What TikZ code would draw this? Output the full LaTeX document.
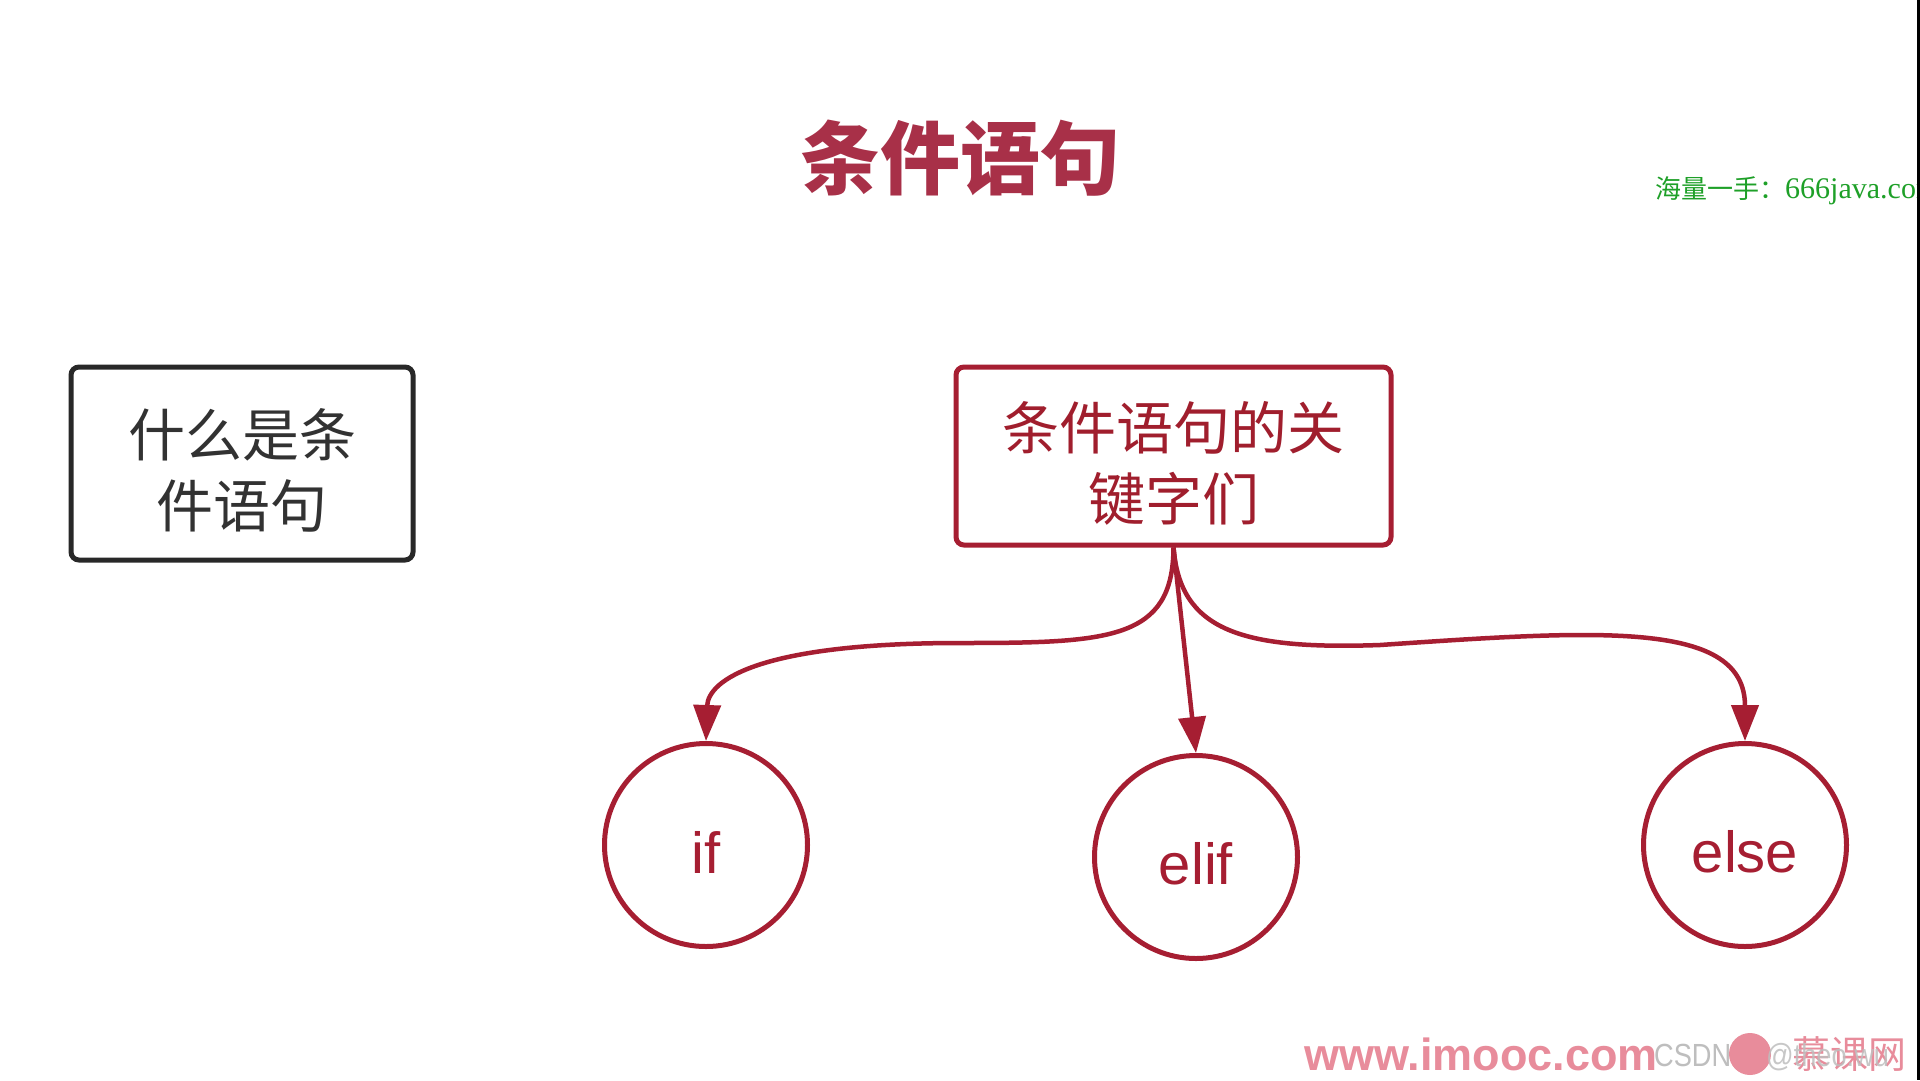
\documentclass[tikz,border=0pt]{standalone}
\usepackage{fontspec}
\setmainfont{Liberation Sans}
\newfontfamily\cjk{Noto Sans CJK SC}
\newfontfamily\serifl{Liberation Serif}
\usetikzlibrary{arrows.meta,shapes.geometric}
\definecolor{crim}{RGB}{166,30,50}
\definecolor{titlered}{RGB}{168,48,72}
\definecolor{crimtext}{RGB}{160,30,45}
\definecolor{darkline}{RGB}{40,40,40}
\definecolor{darktext}{RGB}{50,50,50}
\definecolor{wmgreen}{RGB}{30,160,40}
\definecolor{wmpink}{RGB}{232,140,155}
\definecolor{wmgray}{RGB}{190,190,190}
\begin{document}
\begin{tikzpicture}[x=1pt,y=-1pt,
  boxq/.style={draw=darkline, line width=5pt, rounded corners=8pt, minimum width=342pt, minimum height=193pt, inner sep=0pt},
  boxkey/.style={draw=crim, line width=5pt, rounded corners=8pt, minimum width=435pt, minimum height=178pt, inner sep=0pt},
  boxtext/.style={inner sep=0pt, align=center, font=\cjk\fontsize{57}{71}\selectfont},
  circ/.style={circle, draw=crim, line width=5pt, minimum size=203pt, inner sep=0pt},
  circtext/.style={inner sep=0pt, text=crim, font=\fontsize{58}{58}\selectfont},
  conn/.style={draw=crim, line width=4.5pt, -{Triangle[length=36pt,width=27pt]}}]
\useasboundingbox (0,0) rectangle (1920,1080);
\fill[white] (0,0) rectangle (1920,1080);

\node[font=\cjk\bfseries\fontsize{80}{96}\selectfont, text=titlered] (title) at (960,158) {条件语句};

\begin{scope}
\clip (0,0) rectangle (1917,1080);
\node[anchor=west, inner sep=0pt, text=wmgreen] (green) at (1655,191) {{\cjk\fontsize{26}{30}\selectfont 海量一手：}{\serifl\fontsize{30}{34}\selectfont 666java.com}};
\end{scope}

\node[boxq] (q) at (242,463.5) {};
\node[boxtext, text=darktext] (qt) at ([yshift=-7pt]q.center) {什么是条\\件语句};
\node[boxkey] (key) at (1173.5,456) {};
\node[boxtext, text=crimtext] (keyt) at ([yshift=-7pt]key.center) {条件语句的关\\键字们};

\node[circ] (nif) at (706,845) {};
\node[circ] (nelif) at (1196,857) {};
\node[circ] (nelse) at (1745,845) {};
\node[circtext] (tif) at ([yshift=-7pt]nif.center) {if};
\node[circtext] (telif) at ([yshift=-7pt]nelif.center) {elif};
\node[circtext] (telse) at ([yshift=-7pt]nelse.center) {else};

\draw[conn] (key.south) .. controls (1173,640) and (1110,643) .. (960,643) .. controls (760,643) and (708,680) .. (nif.north);
\draw[conn] (key.south) -- (nelif.north);
\draw[conn] (key.south) .. controls (1180,630) and (1240,650) .. (1380,645) .. controls (1600,630) and (1745,620) .. (nelse.north);

% watermarks
\node[anchor=base west, inner sep=0pt, text=wmpink, font=\bfseries\fontsize{45}{50}\selectfont] (wm1) at (1304,1070) {www.imooc.com};
\node[anchor=base west, inner sep=0pt, text=wmgray, font=\fontsize{32}{36}\selectfont, xscale=0.85] (wm2) at (1654,1066) {CSDN};
\fill[wmpink] (1750,1054) circle (21);
\node[anchor=base west, inner sep=0pt, text=wmpink, font=\cjk\fontsize{38}{40}\selectfont] (wm3) at (1792,1068) {慕课网};
\node[anchor=base west, inner sep=0pt, text=wmgray, font=\fontsize{32}{36}\selectfont, opacity=0.85, xscale=0.85] (wm4) at (1766,1066) {@theo.wu};

\fill[black] (1917,0) rectangle (1920,1080);
\end{tikzpicture}
\end{document}
